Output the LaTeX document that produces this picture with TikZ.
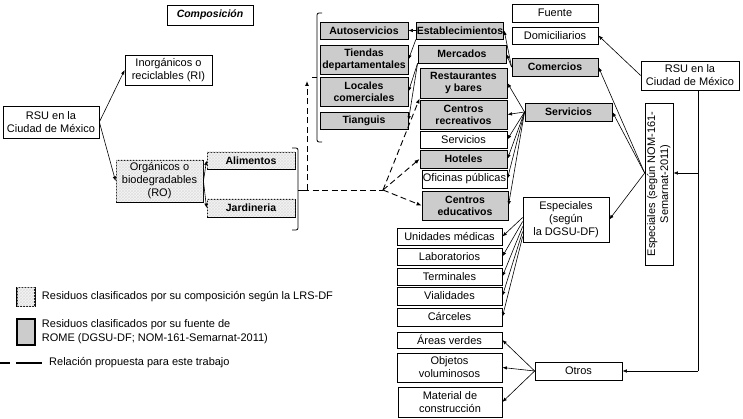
\documentclass[tikz,border=0pt]{standalone}
\usepackage{fontspec}
\setmainfont{Liberation Sans}
\usepackage{tikz}
\usetikzlibrary{arrows.meta,patterns,positioning}
\tikzset{
  plainbox/.style={ draw, line width=0.7pt, inner sep=0.5pt, align=center, font=\fontsize{11}{13}\selectfont }
}
\tikzset{
  srcbox/.style={ plainbox, fill=black!20, line width=0.9pt, font=\bfseries\fontsize{10.5}{12}\selectfont }
}
\tikzset{
  compbox/.style={ plainbox, fill=black!4, postaction={pattern=crosshatch, pattern color=black!12}, line width=0.9pt }
}
\tikzset{
  compbold/.style={ compbox, font=\bfseries\fontsize{10.5}{12}\selectfont }
}
\tikzset{
  arr/.style={ -{Latex[length=4.5pt, width=3.5pt]}, line width=0.6pt }
}
\tikzset{
  dasharr/.style={ -{Latex[length=5pt, width=4pt]}, line width=0.9pt, dash pattern=on 6pt off 3.5pt }
}
\tikzset{
  legendtext/.style={ anchor=west, inner sep=0pt, align=left, font=\fontsize{11}{14}\selectfont }
}

\begin{document}
\begin{tikzpicture}[x=1pt, y=-1pt]
  \useasboundingbox (0,0) rectangle (743,419);

  % composition side
  \node[plainbox, minimum width=86, minimum height=20, font=\bfseries\itshape\fontsize{10.5}{12}\selectfont] (comp) at (210,15) {Composición};
  \node[plainbox, minimum width=96, minimum height=32] (rsul) at (51,122) {RSU en la\\Ciudad de México};
  \node[plainbox, minimum width=87, minimum height=30] (ri) at (168.5,70) {Inorgánicos o\\reciclables (RI)};
  \node[compbox, minimum width=87, minimum height=42] (ro) at (159.5,181) {Orgánicos o\\biodegradables\\(RO)};
  \node[compbold, minimum width=88, minimum height=17] (alim) at (251,160.5) {Alimentos};
  \node[compbold, minimum width=88, minimum height=18] (jard) at (251,208) {Jardineria};

  \draw[arr] (rsul.east) -- (ri.west);
  \draw[arr] (rsul.east) -- (ro.west);
  \draw[arr] (ro.east) -- (alim.west);
  \draw[arr] (ro.east) -- (jard.west);

  % commerce
  \node[srcbox, minimum width=88, minimum height=17] (autos) at (364,30.5) {Autoservicios};
  \node[srcbox, minimum width=88, minimum height=29] (tiendas) at (364,59.5) {Tiendas\\departamentales};
  \node[srcbox, minimum width=88, minimum height=29] (locales) at (364,91.5) {Locales\\comerciales};
  \node[srcbox, minimum width=88, minimum height=17] (tianguis) at (364,120.5) {Tianguis};
  \node[srcbox, minimum width=86, minimum height=17] (estab) at (460,30.5) {Establecimientos};
  \node[srcbox, minimum width=88, minimum height=18] (merc) at (462,54) {Mercados};

  % services
  \node[srcbox, minimum width=87, minimum height=30] (rest) at (463.5,83) {Restaurantes\\y bares};
  \node[srcbox, minimum width=87, minimum height=29] (crec) at (463.5,114.5) {Centros\\recreativos};
  \node[plainbox, minimum width=87, minimum height=17] (servw) at (463.5,139.5) {Servicios};
  \node[srcbox, minimum width=87, minimum height=18] (hot) at (463.5,159) {Hoteles};
  \node[plainbox, minimum width=85, minimum height=18] (ofic) at (464.5,179) {Oficinas públicas};
  \node[srcbox, minimum width=86, minimum height=29] (cedu) at (465,205.5) {Centros\\educativos};

  % sources
  \node[plainbox, minimum width=86, minimum height=18] (fuente) at (555,13) {Fuente};
  \node[plainbox, minimum width=86, minimum height=17] (domic) at (555,35.5) {Domiciliarios};
  \node[srcbox, minimum width=86, minimum height=18] (comer) at (555,67) {Comercios};
  \node[srcbox, minimum width=87, minimum height=18] (servg) at (568.5,112) {Servicios};
  \node[plainbox, minimum width=98, minimum height=29] (rsur) at (690,75.5) {RSU en la\\Ciudad de México};
  \node[plainbox, minimum width=28, minimum height=162] (espn) at (659,184) {\rotatebox{90}{\begin{tabular}{@{}c@{}}Especiales (según NOM-161-\\Semarnat-2011)\end{tabular}}};
  \node[plainbox, minimum width=86, minimum height=45] (espd) at (566,219.5) {Especiales\\(según\\la DGSU-DF)};
  \node[plainbox, minimum width=87, minimum height=18] (otros) at (578.5,371) {Otros};

  % special and others
  \node[plainbox, minimum width=105, minimum height=17] (unid) at (449.5,236.5) {Unidades médicas};
  \node[plainbox, minimum width=105, minimum height=17] (lab) at (449.5,256.5) {Laboratorios};
  \node[plainbox, minimum width=105, minimum height=17] (term) at (449.5,276.5) {Terminales};
  \node[plainbox, minimum width=105, minimum height=18] (vial) at (449.5,296) {Vialidades};
  \node[plainbox, minimum width=105, minimum height=18] (carc) at (449.5,317) {Cárceles};
  \node[plainbox, minimum width=105, minimum height=16] (areas) at (449.5,340) {Áreas verdes};
  \node[plainbox, minimum width=105, minimum height=29] (objetos) at (449.5,367.5) {Objetos\\voluminosos};
  \node[plainbox, minimum width=104, minimum height=30] (material) at (450,402) {Material de\\construcción};

  \draw[arr] (estab.west) -- (autos.east);
  \draw[arr] (estab.south west) -- (tiendas.east);
  \draw[arr] (merc.south west) -- (locales.east);
  \draw[arr] (merc.south west) -- (tianguis.east);
  \draw[arr] (comer.west) -- (estab.east);
  \draw[arr] (comer.west) -- (merc.east);

  \draw[arr] (servg.west) -- (rest.east);
  \draw[arr] (servg.west) -- (crec.east);
  \draw[arr] (servg.west) -- (servw.east);
  \draw[arr] (servg.west) -- (hot.east);
  \draw[arr] (servg.west) -- (ofic.east);
  \draw[arr] (servg.west) -- (cedu.east);

  \draw[arr] (rsur.west) -- (domic.east);
  \draw[arr] ([yshift=11pt]espn.west) -- (comer.east);
  \draw[arr] ([yshift=11pt]espn.west) -- (servg.east);
  \draw[arr] ([yshift=11pt]espn.west) -- (espd.east);

  \coordinate (trunk) at (698,371);
  \coordinate (branch) at (698,173);
  \draw[line width=0.6pt] (rsur.south -| trunk) -- (trunk);
  \draw[arr] (trunk) -- (otros.east);
  \draw[arr] (branch) -- (branch -| espn.east);

  \draw[arr] ([yshift=2pt]espd.west) -- (unid.east);
  \draw[arr] ([yshift=-2pt]espd.west) -- (lab.east);
  \draw[arr] ([yshift=-7pt]espd.west) -- (term.east);
  \draw[arr] ([yshift=-12pt]espd.west) -- (vial.east);
  \draw[arr] ([yshift=-17pt]espd.west) -- (carc.east);

  \draw[arr] (otros.west) -- (areas.east);
  \draw[arr] (otros.west) -- (objetos.east);
  \draw[arr] (otros.west) -- (material.east);

  % brackets and proposed relation
  \coordinate (ro-tip) at (303,190);
  \coordinate (com-tip) at (312,77);
  \coordinate (hub) at (383,190);
  \coordinate (rise) at (307,190);
  \draw[line width=0.8pt, rounded corners=2pt] (292,148) -- (298,148) -- (298,230) -- (292,230);
  \draw[line width=0.8pt] (298,190) -- (ro-tip);
  \draw[line width=0.8pt, rounded corners=2pt] (322,13) -- (317,13) -- (317,142) -- (322,142);
  \draw[line width=0.8pt] (317,77) -- (com-tip);
  \draw[line width=0.9pt, dash pattern=on 6pt off 3.5pt] (ro-tip) -- (hub);
  \draw[dasharr] (rise) -- ++(0,-109);
  \draw[dasharr] (hub) -- (rest.south west);
  \draw[dasharr] (hub) -- (hot.west);
  \draw[dasharr] (hub) -- (cedu.west);

  % legend
  \node[compbox, line width=1.5pt, minimum width=18, minimum height=19] (lg1) at (26,297) {};
  \node[legendtext, right=6pt of lg1] (lg1t) {Residuos clasificados por su composición según la LRS-DF};
  \node[srcbox, line width=1.5pt, minimum width=18, minimum height=26] (lg2) at (26,332) {};
  \node[legendtext, right=6pt of lg2] (lg2t) {Residuos clasificados por su fuente de\\ROME (DGSU-DF; NOM-161-Semarnat-2011)};
  \coordinate (lg3) at (0,363);
  \draw[line width=1.4pt, dash pattern=on 10pt off 6pt on 26pt off 20pt] (lg3) -- ++(42,0);
  \node[legendtext] (lg3t) at (49,363) {Relación propuesta para este trabajo};
\end{tikzpicture}
\end{document}
